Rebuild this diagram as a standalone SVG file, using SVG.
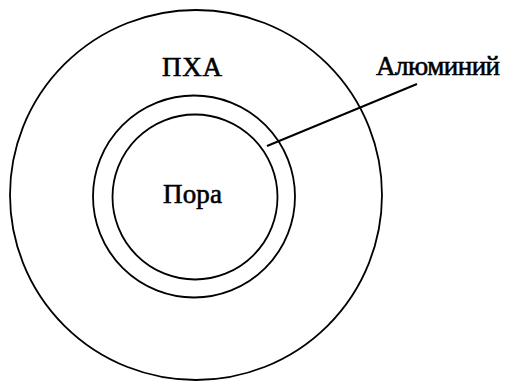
<svg xmlns="http://www.w3.org/2000/svg" width="505" height="381" viewBox="0 0 505 381">
  <style>
    .ring { fill: none; stroke: #000; stroke-width: 1.8; }
    .lbl { font-family: "Liberation Serif", "Times New Roman", serif; font-size: 27px; fill: #000; stroke: #000; stroke-width: 0.6; }
    .lead { stroke: #000; stroke-width: 2; fill: none; }
  </style>
  <rect width="505" height="381" fill="#fff"/>
  <g id="anodic-oxide">
    <ellipse class="ring" cx="196" cy="195" rx="186" ry="185"/>
    <text class="lbl" x="162" y="76" textLength="60">ПХА</text>
  </g>
  <g id="aluminium">
    <circle class="ring" cx="194" cy="196.5" r="101"/>
  </g>
  <g id="pore">
    <circle class="ring" cx="195" cy="197" r="82.5"/>
    <text class="lbl" x="163" y="203" textLength="59">Пора</text>
  </g>
  <g id="aluminium-label">
    <text class="lbl" x="376" y="75" textLength="124">Алюминий</text>
  </g>
  <g id="connectors">
    <line class="lead" x1="267" y1="146" x2="417" y2="84"/>
  </g>
</svg>
